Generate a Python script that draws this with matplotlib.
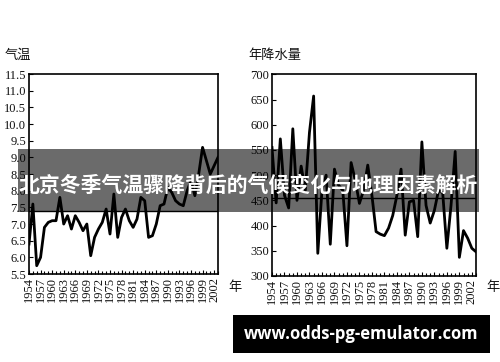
#!/usr/bin/env python3
"""Beijing winter temperature and annual precipitation, 1954-2003."""

import matplotlib

matplotlib.use("Agg")
import matplotlib.pyplot as plt
from matplotlib.patches import Rectangle
from matplotlib.ticker import FormatStrFormatter, MultipleLocator

years = list(range(1954, 2004))
temperature = [
    6.4, 7.6, 5.75, 6.0, 6.9, 7.05, 7.1, 7.1, 7.8, 7.0,
    7.25, 6.85, 7.25, 7.05, 6.8, 7.0, 6.05, 6.6, 6.85, 7.05,
    7.45, 6.7, 7.9, 6.6, 7.2, 7.45, 7.1, 6.9, 7.15, 7.8,
    7.7, 6.6, 6.65, 7.0, 7.55, 7.6, 8.1, 7.95, 7.7, 7.6,
    7.55, 8.0, 8.3, 7.85, 8.5, 9.3, 8.9, 8.5, 8.75, 9.0,
]
precipitation = [
    555, 445, 572, 460, 435, 592, 450, 518, 470, 585,
    657, 345, 470, 500, 363, 512, 480, 470, 360, 525,
    490, 444, 470, 520, 460, 388, 383, 380, 395, 420,
    460, 512, 381, 447, 450, 378, 566, 440, 405, 430,
    470, 465, 355, 440, 547, 337, 390, 375, 355, 348,
]
temperature_mean = 7.4
precipitation_mean = 455

temp_ticks = [5.5 + 0.5 * i for i in range(13)]
precip_ticks = list(range(300, 701, 50))
year_ticks = list(range(1954, 2003, 3))

title = "北京冬季气温骤降背后的气候变化与地理因素解析"
watermark = "www.odds-pg-emulator.com"

serif = ["Liberation Serif", "DejaVu Serif"]
cjk = ["Noto Sans CJK SC", "DejaVu Sans"]

fig = plt.figure(figsize=(5, 3.62), dpi=100)
left = fig.add_axes([0.058, 0.243, 0.378, 0.5525])
right = fig.add_axes([0.544, 0.2376, 0.408, 0.557])

panels = [
    (left, temperature, temperature_mean, temp_ticks, (5.5, 11.5), "%.1f", "气温"),
    (right, precipitation, precipitation_mean, precip_ticks, (300, 700), "%d", "年降水量"),
]
for axis, values, mean, ticks, ylim, fmt, label in panels:
    axis.plot(years, values, color="black", linewidth=2.0)
    axis.axhline(mean, color="black", linewidth=1.0)
    axis.set_xlim(1954, 2003)
    axis.set_ylim(*ylim)
    axis.set_yticks(ticks)
    axis.yaxis.set_major_formatter(FormatStrFormatter(fmt))
    axis.set_xticks(year_ticks)
    axis.xaxis.set_minor_locator(MultipleLocator(1))
    axis.tick_params(direction="in", length=3, width=0.8, pad=2, labelsize=9)
    axis.tick_params(which="minor", direction="in", length=2, width=0.8)
    for tick in axis.get_xticklabels():
        tick.set_rotation(90)
    for tick in axis.get_xticklabels() + axis.get_yticklabels():
        tick.set_family(serif)
        tick.set_color("#111111")
    for spine in axis.spines.values():
        spine.set_linewidth(1.2)
    bbox = axis.get_position()
    fig.text(bbox.x0 - 0.048, bbox.y1 + 0.035, label, family=cjk, fontsize=9.5,
             ha="left", va="bottom", color="#111111")
    fig.text(bbox.x1 + 0.02, 1 - 288 / 362, "年", family=cjk, fontsize=9.5,
             ha="left", va="center", color="#111111")

# title banner over the charts
fig.patches.append(Rectangle((18 / 500, 1 - 212 / 362), 461 / 500, 63 / 362,
                             transform=fig.transFigure, facecolor="black",
                             alpha=0.58, edgecolor="none", zorder=5))
fig.text(248 / 500, 1 - 185 / 362, title, family=cjk, fontsize=15, fontweight="bold",
         color="white", ha="center", va="center", zorder=6)

# watermark box
fig.patches.append(Rectangle((233 / 500, 1 - 353 / 362), 257 / 500, 38 / 362,
                             transform=fig.transFigure, facecolor="black",
                             edgecolor="none", zorder=5))
fig.text(361 / 500, 1 - 334 / 362, watermark, family=["Open Sans", "DejaVu Sans"],
         fontsize=12, fontweight="bold", color="white", ha="center", va="center", zorder=6)

fig.savefig("out.png", dpi=100)
